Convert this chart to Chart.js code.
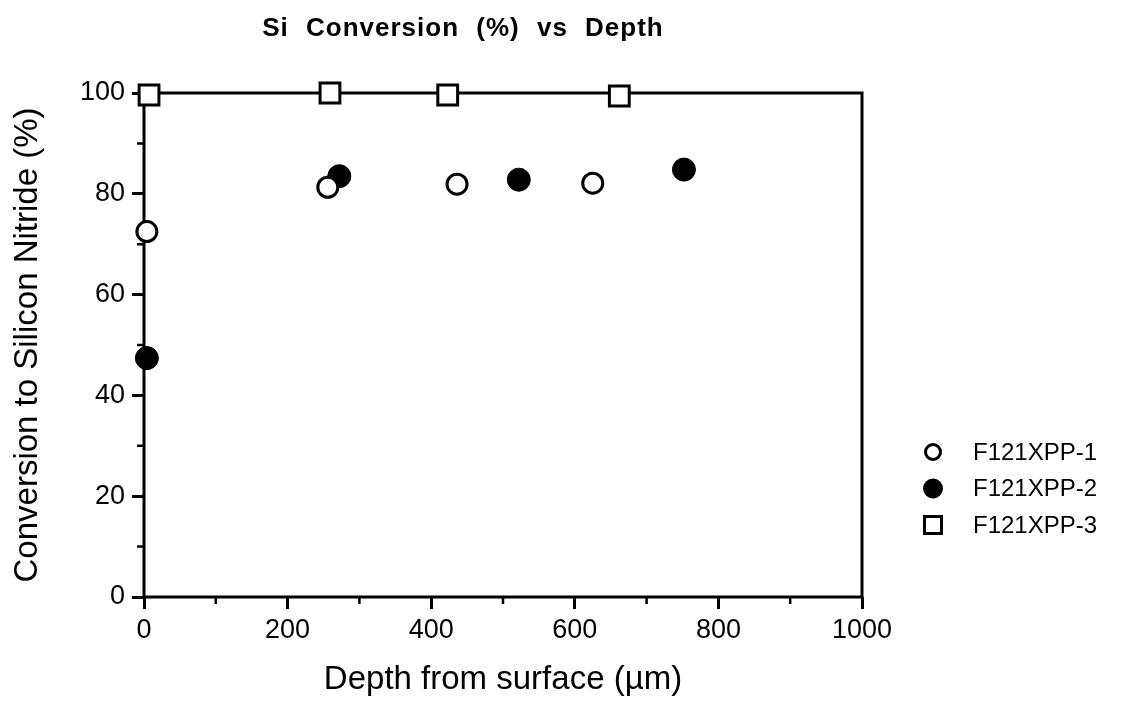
<!DOCTYPE html>
<html>
<head>
<meta charset="utf-8">
<script src="https://cdn.jsdelivr.net/npm/chart.js@4.4.0/dist/chart.umd.min.js"></script>
<style>
  html, body { margin: 0; padding: 0; background: #fff; }
</style>
</head>
<body>
<canvas id="depthChart" width="1126" height="706"></canvas>
<script>
// depth (µm) and conversion (%) for each sample
const depth1 = [4, 256, 436, 625];
const conv1 = [72.5, 81.3, 81.9, 82.1];
const depth2 = [4, 272, 522, 752];
const conv2 = [47.4, 83.5, 82.8, 84.8];
const depth3 = [7, 259, 423, 662];
const conv3 = [99.6, 100, 99.6, 99.4];
const sampleNames = ['F121XPP-1', 'F121XPP-2', 'F121XPP-3'];

const chartTitle = 'Si Conversion (%) vs Depth';
const xTitle = 'Depth from surface (\u00b5m)';
const yTitle = 'Conversion to Silicon Nitride (%)';

const FONT = '"Liberation Sans", Arial, Helvetica, sans-serif';

const pts = (xs, ys) => xs.map((x, i) => ({ x: x, y: ys[i] }));

// outer frame + short minor ticks
const framePlugin = {
    id: 'frame',
    beforeDatasetsDraw(chart) {
        const { ctx, chartArea: a, scales } = chart;
        ctx.save();
        ctx.strokeStyle = '#000';
        ctx.lineWidth = 3;
        ctx.strokeRect(a.left, a.top, a.right - a.left, a.bottom - a.top);
        ctx.lineWidth = 2.5;
        ctx.beginPath();
        scales.x.ticks.forEach(t => {
            if (t.value % 200 !== 0) {
                const px = scales.x.getPixelForValue(t.value);
                ctx.moveTo(px, a.bottom);
                ctx.lineTo(px, a.bottom + 7);
            }
        });
        scales.y.ticks.forEach(t => {
            if (t.value % 20 !== 0) {
                const py = scales.y.getPixelForValue(t.value);
                ctx.moveTo(a.left - 7, py);
                ctx.lineTo(a.left, py);
            }
        });
        ctx.stroke();
        ctx.restore();
    }
};

// spaced-out bold heading
const headingPlugin = {
    id: 'heading',
    afterDraw(chart) {
        const { ctx, chartArea: a } = chart;
        ctx.save();
        ctx.font = 'bold 26px ' + FONT;
        ctx.letterSpacing = '1px';
        ctx.wordSpacing = '9px';
        ctx.fillStyle = '#000';
        ctx.textAlign = 'center';
        ctx.textBaseline = 'alphabetic';
        ctx.fillText(chartTitle, (a.left + a.right) / 2 - 40, 36);
        ctx.restore();
    }
};

// key to the right of the plot
const keyPlugin = {
    id: 'key',
    afterDraw(chart) {
        const { ctx, chartArea: a } = chart;
        const mx = a.right + 71;
        const tx = a.right + 111;
        ctx.save();
        ctx.font = '24px ' + FONT;
        ctx.textBaseline = 'middle';
        ctx.fillStyle = '#000';
        ctx.strokeStyle = '#000';
        chart.data.datasets.forEach((ds, i) => {
            const cy = a.bottom - 145 + i * 36.5;
            ctx.beginPath();
            if (ds.pointStyle === 'rect') {
                ctx.lineWidth = 3;
                ctx.rect(mx - 8.5, cy - 8.5, 17, 17);
                ctx.fillStyle = '#fff';
                ctx.fill();
                ctx.stroke();
            } else if (ds.backgroundColor === '#fff') {
                ctx.lineWidth = 3;
                ctx.arc(mx, cy, 7.5, 0, Math.PI * 2);
                ctx.fillStyle = '#fff';
                ctx.fill();
                ctx.stroke();
            } else {
                ctx.arc(mx, cy, 10, 0, Math.PI * 2);
                ctx.fillStyle = '#000';
                ctx.fill();
            }
            ctx.fillStyle = '#000';
            ctx.fillText(ds.label, tx, cy + 1);
        });
        ctx.restore();
    }
};

const tickFont = { family: FONT, size: 27 };
const titleFont = { family: FONT, size: 33 };

new Chart(document.getElementById('depthChart'), {
    type: 'scatter',
    data: {
        datasets: [
            {
                label: sampleNames[0],
                data: pts(depth1, conv1),
                pointStyle: 'circle',
                pointRadius: 10,
                borderWidth: 3,
                borderColor: '#000',
                backgroundColor: '#fff',
                clip: false
            },
            {
                label: sampleNames[1],
                data: pts(depth2, conv2),
                pointStyle: 'circle',
                pointRadius: 11.5,
                borderWidth: 1,
                borderColor: '#000',
                backgroundColor: '#000',
                clip: false
            },
            {
                label: sampleNames[2],
                data: pts(depth3, conv3),
                pointStyle: 'rect',
                pointRadius: 14,
                borderWidth: 3,
                borderColor: '#000',
                backgroundColor: '#fff',
                clip: false
            }
        ]
    },
    options: {
        responsive: false,
        animation: false,
        layout: { padding: { top: 93, right: 264, left: 0, bottom: 0 } },
        plugins: {
            legend: { display: false },
            tooltip: { enabled: false },
            title: { display: false }
        },
        scales: {
            x: {
                type: 'linear',
                min: 0,
                max: 1000,
                border: { display: false },
                grid: {
                    drawOnChartArea: false,
                    tickLength: 12,
                    tickWidth: 3,
                    tickColor: c => (c.tick && c.tick.value % 200 === 0) ? '#000' : 'rgba(0,0,0,0)'
                },
                ticks: {
                    stepSize: 100,
                    autoSkip: false,
                    maxRotation: 0,
                    padding: 5,
                    color: '#000',
                    font: tickFont,
                    callback: v => (v % 200 === 0 ? String(v) : '')
                },
                title: {
                    display: true,
                    text: xTitle,
                    color: '#000',
                    font: titleFont,
                    padding: { top: 0, bottom: 6 }
                },
                afterFit: s => { s.height = 109; }
            },
            y: {
                type: 'linear',
                min: 0,
                max: 100,
                border: { display: false },
                grid: {
                    drawOnChartArea: false,
                    tickLength: 12,
                    tickWidth: 3,
                    tickColor: c => (c.tick && c.tick.value % 20 === 0) ? '#000' : 'rgba(0,0,0,0)'
                },
                ticks: {
                    stepSize: 10,
                    autoSkip: false,
                    padding: 7,
                    color: '#000',
                    font: tickFont,
                    callback: v => (v % 20 === 0 ? String(v) : '')
                },
                title: {
                    display: true,
                    text: yTitle,
                    color: '#000',
                    font: titleFont,
                    padding: { top: 8, bottom: 0 }
                },
                afterFit: s => { s.width = 144; }
            }
        }
    },
    plugins: [framePlugin, headingPlugin, keyPlugin]
});
</script>
</body>
</html>
